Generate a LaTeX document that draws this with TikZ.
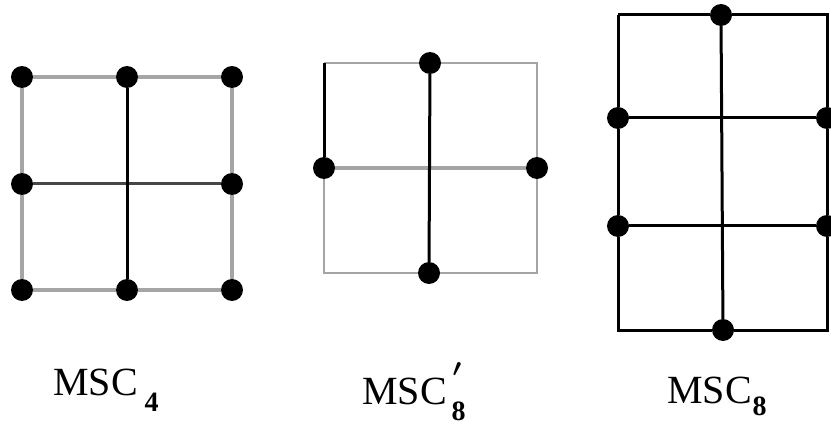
\documentclass[tikz,border=0pt]{standalone}
\usepackage{fontspec}
\setmainfont{Liberation Serif}
\usepackage{tikz}
\usetikzlibrary{backgrounds}
\definecolor{mscgray}{RGB}{165,165,165}
\definecolor{mscdark}{RGB}{70,70,70}

\begin{document}
\begin{tikzpicture}[
    x=1pt, y=-1pt,
    dot/.style={circle, fill=black, inner sep=0pt, minimum size=22pt},
    greyline/.style={draw=mscgray, line width=#1},
    greyline/.default=4pt,
    darkline/.style={draw=mscdark, line width=3pt},
    blackline/.style={draw=black, line width=3pt},
    lbl/.style={anchor=base west, inner sep=0pt, font=\fontsize{40}{44}\selectfont}
]
\useasboundingbox (0,0) rectangle (831,425);

% MSC_4
\node[dot] (a11) at (22,77) {};
\node[dot] (a12) at (127,77) {};
\node[dot] (a13) at (232,77) {};
\node[dot] (a21) at (22,184) {};
\node[dot] (a23) at (232,184) {};
\node[dot] (a31) at (22,290) {};
\node[dot] (a32) at (127,290) {};
\node[dot] (a33) at (232,290) {};
\begin{scope}[on background layer]
\draw[greyline] (a11) -- (a12) -- (a13) -- (a23) -- (a33) -- (a32) -- (a31) -- (a21) -- (a11);
\draw[darkline] (a21) -- (a23);
\draw[blackline] (a12) -- (a32);
\end{scope}

% MSC_8'
\coordinate (btl) at (324,63);
\coordinate (btr) at (537,63);
\coordinate (bbr) at (537,273);
\coordinate (bbl) at (324,273);
\node[dot] (btop) at (430,63) {};
\node[dot] (bleft) at (324,168) {};
\node[dot] (bright) at (537,168) {};
\node[dot] (bbot) at (429,273) {};
\begin{scope}[on background layer]
\draw[greyline=2.5pt] (btl) -- (btop) -- (btr) -- (bright) -- (bbr) -- (bbot) -- (bbl) -- (bleft);
\draw[greyline=4.5pt] (bleft) -- (bright);
\draw[blackline] (btl) -- (bleft);
\draw[blackline] (btop) -- (bbot);
\end{scope}

% MSC_8
\coordinate (ctl) at (618,15);
\coordinate (ctr) at (827,15);
\coordinate (cbr) at (827,330);
\coordinate (cbl) at (618,330);
\node[dot] (ctop) at (721,15) {};
\node[dot] (cl1) at (618,118) {};
\node[dot] (cl2) at (618,226) {};
\node[dot] (cr1) at (827,118) {};
\node[dot] (cr2) at (827,226) {};
\node[dot] (cbot) at (723,330) {};
\begin{scope}[on background layer]
\draw[blackline] (ctl) -- (ctop) -- (ctr) -- (cr1) -- (cr2) -- (cbr) -- (cbot) -- (cbl) -- (cl2) -- (cl1) -- (ctl);
\draw[blackline] (cl1) -- (cr1);
\draw[blackline] (cl2) -- (cr2);
\draw[blackline] (ctop) -- (cbot);
\end{scope}

% Labels
\node[lbl] (lab4) at (53,395) {MSC\hspace{7pt}\raisebox{-17pt}{\fontsize{28}{28}\selectfont\bfseries 4}};
\node[lbl] (lab8p) at (362,404) {MSC\hspace{5pt}\rlap{\hspace{1pt}\raisebox{28pt}{\fontsize{34}{34}\selectfont\boldmath$\prime$}}\raisebox{-16pt}{\fontsize{28}{28}\selectfont\bfseries 8}};
\node[lbl] (lab8) at (667,403) {MSC\hspace{1pt}\raisebox{-12pt}{\fontsize{28}{28}\selectfont\bfseries 8}};
\end{tikzpicture}
\end{document}
